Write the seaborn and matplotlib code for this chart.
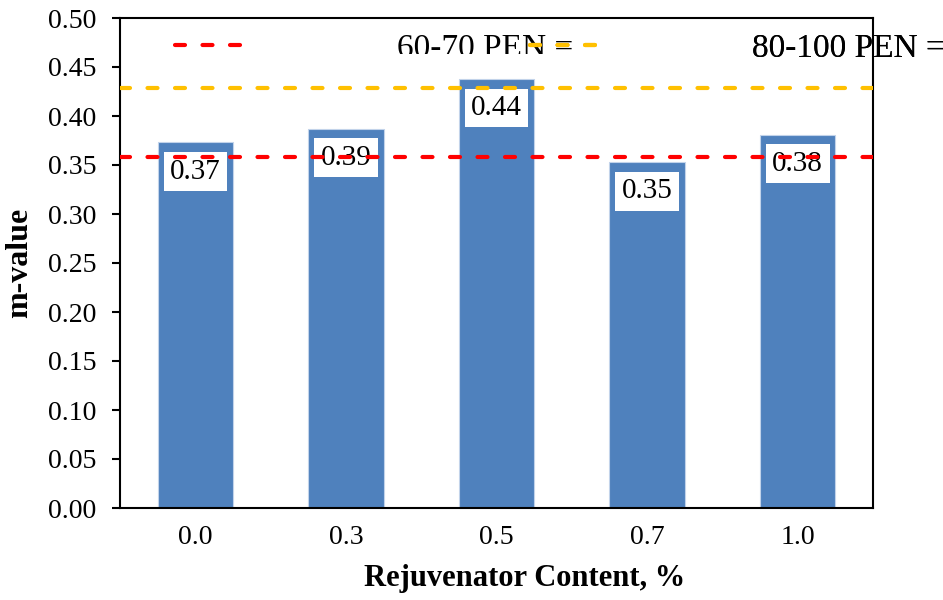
import matplotlib
matplotlib.use("Agg")
import matplotlib.pyplot as plt
from matplotlib.transforms import Bbox
import seaborn as sns
import pandas as pd

# ---- data ----
categories = ["0.0", "0.3", "0.5", "0.7", "1.0"]
m_values = [0.373, 0.387, 0.438, 0.353, 0.381]
ref_names = ["60-70 PEN =", "80-100 PEN ="]
ref_values = [0.3585, 0.429]
y_ticks = [0.00, 0.05, 0.10, 0.15, 0.20, 0.25, 0.30, 0.35, 0.40, 0.45, 0.50]

sns.set_theme(style="white")
plt.rcParams["font.family"] = ["Liberation Serif", "DejaVu Serif"]
plt.rcParams["text.color"] = "black"
plt.rcParams["axes.labelcolor"] = "black"
plt.rcParams["xtick.color"] = "black"
plt.rcParams["ytick.color"] = "black"

df = pd.DataFrame({"content": categories, "m": m_values})

fig = plt.figure(figsize=(9.43, 6.0), dpi=100)
ax = fig.add_axes([120 / 943, 92 / 600, 753 / 943, 490 / 600])

sns.barplot(data=df, x="content", y="m", color="#4F81BD", saturation=1,
            width=0.5, edgecolor="#C2D3EA", linewidth=0.8, ax=ax, zorder=1)

# data labels
for i, v in enumerate(m_values):
    ax.annotate(f"{v:.2f}", xy=(i, v), xytext=(0, -21), textcoords="offset points",
                ha="center", va="center", fontsize=21, color="black", zorder=2.5,
                bbox=dict(boxstyle="square,pad=0.22", fc="white", ec="none"))

# reference lines
line_colors = ["#FF0000", "#FFC000"]
handles = []
for name, val, col in zip(ref_names, ref_values, line_colors):
    h = ax.axhline(val, color=col, lw=3, linestyle=(0, (2.4, 4.2)),
                   dash_capstyle="round", zorder=3, label=name)
    handles.append(h)

ax.set_ylim(0, 0.5)
ax.set_yticks(y_ticks)
ax.set_yticklabels([f"{t:.2f}" for t in y_ticks])
ax.tick_params(axis="y", which="major", direction="out", length=6, width=1.5,
               pad=11, labelsize=20, left=True, color="black")
ax.tick_params(axis="x", which="major", length=0, pad=12.5, labelsize=20)

for s in ax.spines.values():
    s.set_visible(True)
    s.set_color("black")
    s.set_linewidth(1.5)

ax.set_xlabel("Rejuvenator Content, %", fontsize=22, fontweight="bold")
ax.set_ylabel("m-value", fontsize=23, fontweight="bold")
ax.xaxis.set_label_coords(0.537, -0.114)
ax.yaxis.set_label_coords(-0.114, 0.5)

# legend entries (two single-entry legends, placed like the original)
leg_x = [(175 - 120) / 753, (530 - 120) / 753]
leg_y = 0.937
legs = []
for h, lx in zip(handles, leg_x):
    lg = ax.legend(handles=[h], loc="center left", bbox_to_anchor=(lx, leg_y),
                   frameon=False, fontsize=24, handlelength=2.05,
                   handletextpad=4.6, borderpad=0, borderaxespad=0)
    ax.add_artist(lg)
    legs.append(lg)

# first legend text is clipped at its bottom in the original
t0 = legs[0].get_texts()[0]
t0.set_clip_box(Bbox.from_extents(0, 600 - 54, 943, 600))
t0.set_clip_on(True)

fig.savefig("out.png", dpi=100)
